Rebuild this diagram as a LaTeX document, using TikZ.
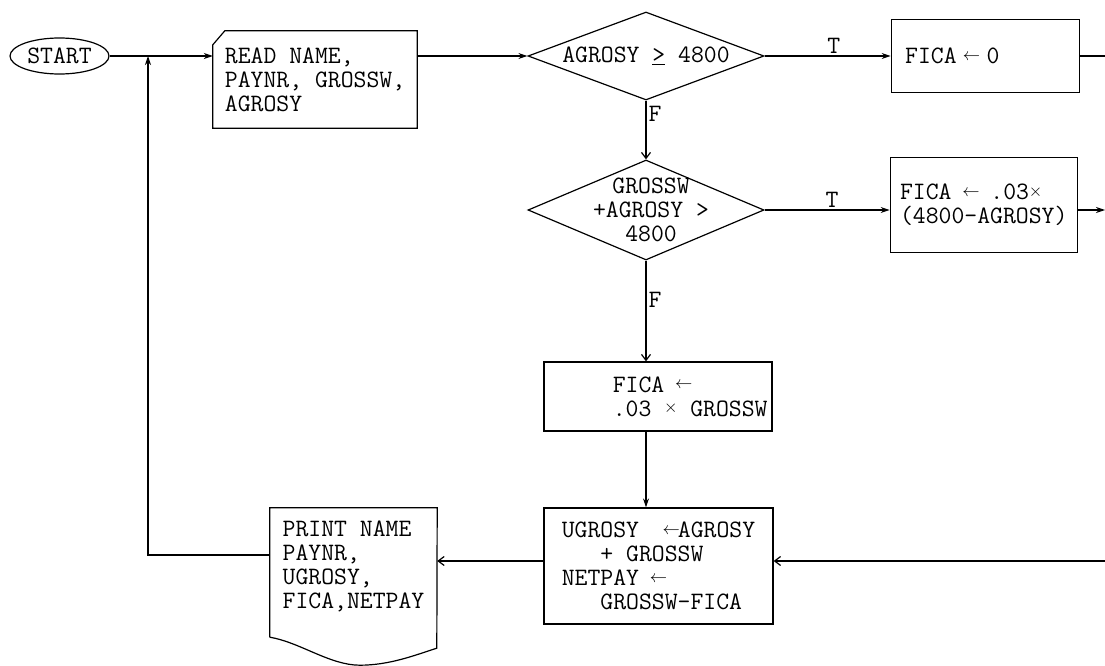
\documentclass[tikz,border=0pt]{standalone}
\usetikzlibrary{arrows.meta, shapes.geometric, positioning}
\newcommand{\tw}{\fontsize{25}{24}\selectfont\ttfamily}
\newcommand{\asg}{\makebox[.525em]{\raisebox{.13em}{\fontsize{16}{16}\selectfont$\leftarrow$}}}
\newcommand{\mul}{\makebox[.525em]{\raisebox{.13em}{\fontsize{16}{16}\selectfont$\times$}}}

\begin{document}
\begin{tikzpicture}[x=1pt, y=1pt,
  every node/.style={font=\tw},
  ln/.style={line width=1.2pt},
  pbox/.style={draw, ln, rectangle, align=left, inner sep=0pt},
  dia/.style={draw, ln, diamond, inner sep=0pt, minimum width=236pt},
  arr/.style={ln, -{Straight Barb[length=6pt, width=9pt]}},
  arrs/.style={ln, -{Stealth[length=9pt, width=6pt]}},
  lbl/.style={inner sep=2pt},
]
  \useasboundingbox (0,0) rectangle (1105,-666);

  % top row
  \node[ellipse, draw, ln, minimum width=99pt, minimum height=36pt,
        inner sep=0pt] (st) at (59.5,-56) {START};
  \node[align=left, minimum width=204pt, minimum height=97pt,
        inner sep=0pt] (rd) at (315,-79.5) {READ NAME,\\PAYNR, GROSSW,\\AGROSY};
  \draw[ln] ([yshift=-14pt]rd.north west) -- ([xshift=12pt]rd.north west)
    -- (rd.north east) -- (rd.south east) -- (rd.south west) -- cycle;
  \node[dia, minimum height=88pt] (ge) at (646,-56) {};
  \node (get) at (ge) {AGROSY \underline{>} 4800};
  \node[pbox, right=126pt of ge, minimum height=73pt, text width=160pt,
        inner xsep=14pt] (fz) {FICA \asg{} 0};

  % second test
  \node[dia, minimum height=100pt] (gt) at (646,-210) {};
  \node[align=center, font={\fontsize{25}{24}\selectfont\ttfamily}]
    (gtt) at ([xshift=5pt]gt.center) {GROSSW\\+AGROSY >\\4800};
  \node[pbox, right=125pt of gt, yshift=5pt, minimum width=187pt,
        minimum height=95pt] (fx) {FICA \asg{} .03\mul\\(4800-AGROSY)};

  % lower column
  \node[pbox, minimum width=228pt, minimum height=69pt] (fg) at (658,-396.5)
    {~~~~~FICA \asg\\~~~~~.03 \mul{} GROSSW};
  \node[pbox, minimum width=229pt, minimum height=116pt] (up) at (658.5,-566)
    {UGROSY~~\asg AGROSY\\~~~+ GROSSW\\NETPAY \asg\\~~~GROSSW-FICA};
  \node[align=left, inner sep=0pt, minimum width=167pt, minimum height=116pt]
    (pr) at (353.5,-566) {PRINT NAME\\PAYNR,\\UGROSY,\\FICA,NETPAY};
  \draw[ln, shift={(pr.south west)}] (0,-13) -- (pr.north west)
    -- (pr.north east) -- (167,-24)
    .. controls (145,-31) and (120,-41) .. (90,-41)
    .. controls (60,-41) and (30,-18) .. (0,-13);

  % loose ends
  \coordinate (jn) at (148,-56);
  \coordinate (jl) at (148,-555);
  \coordinate (e1) at (1105,-56);
  \coordinate (e2) at (1105,-210);
  \coordinate (e3) at (1105,-561);

  % flow lines
  \draw[arrs] (st) -- (st -| rd.west);
  \draw[arrs] (rd.east |- ge) -- (ge);
  \draw[arrs] (ge) -- node[lbl, above, pos=.55] (t1) {T} (fz);
  \draw[ln] (fz) -- (e1);
  \draw[arr] (ge) -- node[lbl, right, pos=.22] (f1) {F} (gt);
  \draw[arrs] (gt) -- node[lbl, above, pos=.54] (t2) {T} (gt -| fx.west);
  \draw[arrs] (gt -| fx.east) -- (e2);
  \draw[arr] (gt) -- node[lbl, right, pos=.39] (f2) {F} (gt |- fg.north);
  \draw[arrs] (gt |- fg.south) -- (gt |- up.north);
  \draw[arr] (e3) -- (e3 -| up.east);
  \draw[arr] (e3 -| up.west) -- (e3 -| pr.east);
  \draw[arrs] (pr.west |- jl) -- (jl) -- (jn);
\end{tikzpicture}
\end{document}
